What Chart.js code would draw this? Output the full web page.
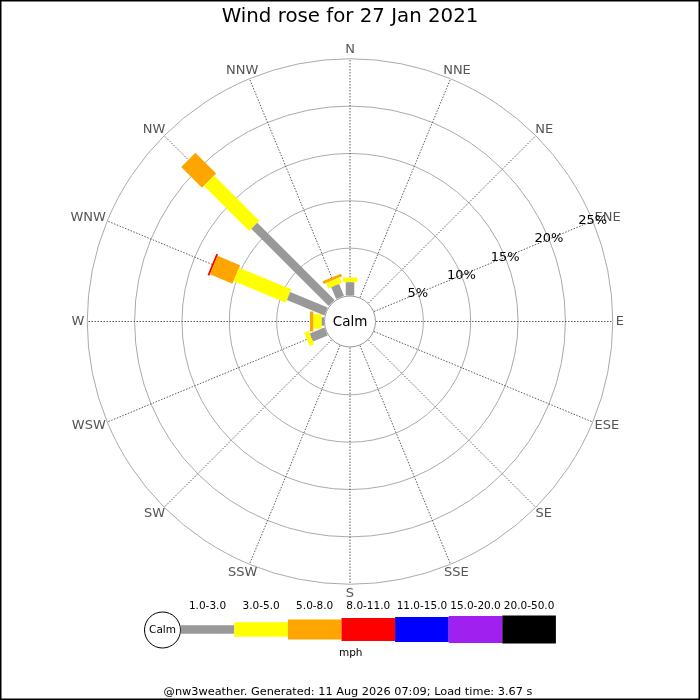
<!DOCTYPE html>
<html>
<head>
<meta charset="utf-8">
<title>Wind rose for 27 Jan 2021</title>
<script src="https://cdn.jsdelivr.net/npm/chart.js@4.4.1/dist/chart.umd.min.js"></script>
<style>
  html, body { margin: 0; padding: 0; background: #fff; }
  #wrap { width: 700px; height: 700px; }
</style>
</head>
<body>
<div id="wrap"><canvas id="rose" width="700" height="700"></canvas></div>
<script>
// compass points, clockwise from N
const directions = ["N", "NNE", "NE", "ENE", "E", "ESE", "SE", "SSE", "S", "SSW", "SW", "WSW", "W", "WNW", "NW", "NNW"];
const angles = [0, 22.5, 45, 67.5, 90, 112.5, 135, 157.5, 180, 202.5, 225, 247.5, 270, 292.5, 315, 337.5];

// speed bins (mph) and their colours
const speedBins = ["1.0-3.0", "3.0-5.0", "5.0-8.0", "8.0-11.0", "11.0-15.0", "15.0-20.0", "20.0-50.0"];
const binColors = ["#999999", "#ffff00", "#ffa500", "#ff0000", "#0000ff", "#a020f0", "#000000"];
const binWidths = [8.5, 14.5, 20, 23, 25, 27, 28];

// % of time per direction for each speed bin
const pct1to3   = [1.39, 0, 0, 0, 0, 0, 0, 0, 0, 0, 0, 1.66, 0.24, 4.28, 11.55, 1.35];
const pct3to5   = [0.50, 0, 0, 0, 0, 0, 0, 0, 0, 0, 0, 0.52, 0.89, 5.97, 6.75, 0.63];
const pct5to8   = [0, 0, 0, 0, 0, 0, 0, 0, 0, 0, 0, 0, 0.35, 2.58, 3.10, 0.30];
const pct8to11  = [0, 0, 0, 0, 0, 0, 0, 0, 0, 0, 0, 0, 0, 0.20, 0, 0];
const pct11to15 = [0, 0, 0, 0, 0, 0, 0, 0, 0, 0, 0, 0, 0, 0, 0, 0];
const pct15to20 = [0, 0, 0, 0, 0, 0, 0, 0, 0, 0, 0, 0, 0, 0, 0, 0];
const pct20to50 = [0, 0, 0, 0, 0, 0, 0, 0, 0, 0, 0, 0, 0, 0, 0, 0];

// ring ticks
const ringTicks = [5, 10, 15, 20, 25];
const ringLabels = ["5%", "10%", "15%", "20%", "25%"];

// layout: pixels per percent and the calm circle radius
const PX_PER_PCT = 9.47;
const CALM_PX = 26;
const HALF = 300;
const CALM = CALM_PX / PX_PER_PCT;
const LIMIT = HALF / PX_PER_PCT;
const FONT = '"DejaVu Sans", "Liberation Sans", sans-serif';

const seriesByBin = [pct1to3, pct3to5, pct5to8, pct8to11, pct11to15, pct15to20, pct20to50];

// one thick line segment per direction/speed bin, stacked outwards
const datasets = [];
directions.forEach((dir, i) => {
  const a = angles[i] * Math.PI / 180;
  let base = 0;
  seriesByBin.forEach((vals, b) => {
    const v = vals[i];
    if (!v) return;
    const r0 = CALM + base;
    const r1 = CALM + base + v;
    datasets.push({
      label: dir + " " + speedBins[b],
      data: [
        { x: r0 * Math.sin(a), y: r0 * Math.cos(a) },
        { x: r1 * Math.sin(a), y: r1 * Math.cos(a) }
      ],
      showLine: true,
      borderColor: binColors[b],
      backgroundColor: binColors[b],
      borderWidth: binWidths[b],
      borderCapStyle: "butt",
      pointRadius: 0,
      fill: false
    });
    base += v;
  });
});

const roseDecor = {
  id: "roseDecor",
  beforeDatasetsDraw(chart) {
    const { ctx, scales: { x, y } } = chart;
    const cx = x.getPixelForValue(0), cy = y.getPixelForValue(0);
    const pxPer = x.getPixelForValue(1) - cx;
    const rad = v => (CALM + v) * pxPer;
    ctx.save();
    // rings
    ctx.strokeStyle = "#aaaaaa";
    ctx.lineWidth = 1;
    ringTicks.forEach(t => {
      ctx.beginPath();
      ctx.arc(cx, cy, rad(t), 0, 2 * Math.PI);
      ctx.stroke();
    });
    // dotted spokes
    ctx.strokeStyle = "#333333";
    ctx.lineWidth = 0.8;
    ctx.setLineDash([1.5, 1.5]);
    angles.forEach(deg => {
      const a = deg * Math.PI / 180;
      ctx.beginPath();
      ctx.moveTo(cx + rad(0) * Math.sin(a), cy - rad(0) * Math.cos(a));
      ctx.lineTo(cx + rad(25) * Math.sin(a), cy - rad(25) * Math.cos(a));
      ctx.stroke();
    });
    ctx.setLineDash([]);
    // compass labels
    ctx.font = "13px " + FONT;
    ctx.fillStyle = "#555555";
    ctx.textAlign = "center";
    ctx.textBaseline = "middle";
    directions.forEach((d, i) => {
      const a = angles[i] * Math.PI / 180;
      const w = ctx.measureText(d).width / 2;
      const R = rad(25) + 3;
      ctx.fillText(d, cx + (R + w) * Math.sin(a), cy - (R + 6) * Math.cos(a));
    });
    ctx.restore();
  },
  afterDatasetsDraw(chart) {
    const { ctx, scales: { x, y } } = chart;
    const cx = x.getPixelForValue(0), cy = y.getPixelForValue(0);
    const pxPer = x.getPixelForValue(1) - cx;
    const rad = v => (CALM + v) * pxPer;
    ctx.save();
    ctx.textAlign = "center";
    ctx.textBaseline = "middle";

    // calm circle
    ctx.beginPath();
    ctx.arc(cx, cy, rad(0) - 0.5, 0, 2 * Math.PI);
    ctx.fillStyle = "#ffffff";
    ctx.fill();
    ctx.strokeStyle = "#999999";
    ctx.lineWidth = 1;
    ctx.stroke();
    ctx.fillStyle = "#000";
    ctx.font = "13.5px " + FONT;
    ctx.fillText("Calm", cx, cy + 1);

    // percent labels along the ENE spoke
    const la = angles[3] * Math.PI / 180;
    ctx.font = "13px " + FONT;
    ringTicks.forEach((t, k) => {
      ctx.fillText(ringLabels[k], cx + rad(t) * Math.sin(la), cy - rad(t) * Math.cos(la));
    });

    // title
    ctx.font = "19.8px " + FONT;
    ctx.fillText("Wind rose for 27 Jan 2021", 350, 17);

    // legend
    const legX0 = 180.7, legW = 53.6, legY = 629.5;
    ctx.beginPath();
    ctx.arc(162.5, 630, 18, 0, 2 * Math.PI);
    ctx.strokeStyle = "#000";
    ctx.lineWidth = 1;
    ctx.stroke();
    ctx.font = "10.5px " + FONT;
    ctx.fillText("Calm", 162.5, 630.5);
    speedBins.forEach((lab, b) => {
      ctx.fillStyle = binColors[b];
      ctx.fillRect(legX0 + b * legW, legY - binWidths[b] / 2, legW, binWidths[b]);
      ctx.fillStyle = "#000";
      ctx.fillText(lab, legX0 + b * legW + legW / 2, 606.5);
    });
    ctx.fillText("mph", 350.7, 653.5);

    // footer
    ctx.font = "11.3px " + FONT;
    ctx.fillText("@nw3weather. Generated: 11 Aug 2026 07:09; Load time: 3.67 s", 348, 692.5);

    // frame
    ctx.strokeStyle = "#000";
    ctx.lineWidth = 1.5;
    ctx.strokeRect(0.75, 0.75, 698.5, 698.5);
    ctx.restore();
  }
};

new Chart(document.getElementById("rose").getContext("2d"), {
  type: "scatter",
  data: { datasets: datasets },
  options: {
    responsive: false,
    animation: false,
    layout: { padding: { left: 50, right: 50, top: 21.5, bottom: 78.5 } },
    scales: {
      x: { type: "linear", min: -LIMIT, max: LIMIT, display: false },
      y: { type: "linear", min: -LIMIT, max: LIMIT, display: false }
    },
    plugins: {
      legend: { display: false },
      tooltip: { enabled: false },
      title: { display: false }
    }
  },
  plugins: [roseDecor]
});
</script>
</body>
</html>
